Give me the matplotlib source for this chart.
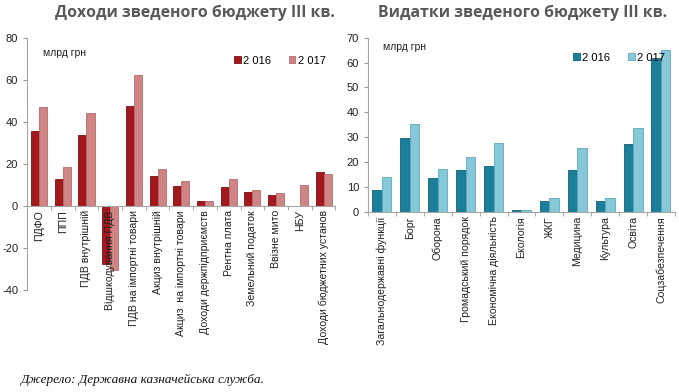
import numpy as np
import matplotlib
matplotlib.use("Agg")
import matplotlib.pyplot as plt

plt.rcParams["font.family"] = ["Liberation Sans", "DejaVu Sans"]
plt.rcParams["axes.unicode_minus"] = False

# income (left chart), bn UAH
inc_cats = ["ПДФО", "ППП", "ПДВ внутрішній", "Відшкодування ПДВ",
            "ПДВ на імпортні товари", "Акциз внутрішній", "Акциз  на імпортні товари",
            "Доходи держпідприємств", "Рентна плата", "Земельний податок",
            "Ввізне мито", "НБУ", "Доходи бюджетних установ"]
inc_2016 = [35.5, 12.9, 34.0, -27.7, 47.8, 14.5, 9.7, 2.6, 8.9, 6.7, 5.1, 0.0, 16.0]
inc_2017 = [47.2, 18.4, 44.3, -30.6, 62.2, 17.8, 11.9, 2.6, 12.9, 7.5, 6.2, 10.0, 15.2]

# spending (right chart), bn UAH
exp_cats = ["Загальнодержавні функції", "Борг", "Оборона", "Громадський порядок",
            "Економічна діяльність", "Екологія", "ЖКГ", "Медицина", "Культура",
            "Освіта", "Соцзабезпечення"]
exp_2016 = [8.9, 29.6, 13.8, 17.0, 18.5, 0.8, 4.3, 17.0, 4.3, 27.2, 62.0]
exp_2017 = [14.2, 35.5, 17.2, 22.1, 27.6, 0.8, 5.8, 25.9, 5.5, 33.7, 65.0]

years = ["2 016", "2 017"]
GREY = "#595959"


def bars(ax, cats, a, b, colors, edges, zero_axis=False):
    if zero_axis:
        ax.spines["bottom"].set_position(("data", 0))
    x = np.arange(len(cats))
    w = 0.34
    ax.bar(x - w / 2, a, w, color=colors[0], edgecolor=edges[0], lw=0.6, label=years[0])
    ax.bar(x + w / 2, b, w, color=colors[1], edgecolor=edges[1], lw=0.6, label=years[1])
    ax.set_xlim(-0.5, len(cats) - 0.5)
    ax.set_xticks(x)
    ax.set_xticklabels(cats, rotation=90, fontsize=7.6, color="#222222")
    ax.set_xticks(np.arange(len(cats) + 1) - 0.5, minor=True)
    ax.tick_params(axis="x", which="major", length=0, pad=3)
    ax.tick_params(axis="x", which="minor", length=3, color="#999999")
    ax.tick_params(axis="y", labelsize=8, length=3, color="#999999", labelcolor="#222222")
    for s in ("top", "right"):
        ax.spines[s].set_visible(False)
    for s in ("left", "bottom"):
        ax.spines[s].set_color("#a6a6a6")
        ax.spines[s].set_linewidth(0.8)
    ax.text(0.05, 0.93, "млрд грн", transform=ax.transAxes, fontsize=7.5, color="#222222")
    ax.legend(loc="upper right", bbox_to_anchor=(1.0, 0.97), ncol=2, frameon=False,
              fontsize=8, handlelength=0.6, handleheight=0.6, handletextpad=0.2,
              columnspacing=1.6)


fig = plt.figure(figsize=(6.79, 3.92), dpi=100)

ax1 = fig.add_axes([0.040, 0.260, 0.454, 0.643])
ax1.set_ylim(-40, 80)
bars(ax1, inc_cats, inc_2016, inc_2017, ("#a3181c", "#cf8585"), ("#7a1014", "#b86a6a"),
     zero_axis=True)
ax1.set_ylim(-40, 80)
ax1.set_yticks(range(-40, 81, 20))

ax2 = fig.add_axes([0.542, 0.459, 0.452, 0.445])
bars(ax2, exp_cats, exp_2016, exp_2017, ("#1b7f99", "#86c8d8"), ("#136077", "#5fa9bd"))
ax2.set_ylim(0, 70)
ax2.set_yticks(range(0, 71, 10))

fig.text(0.287, 0.968, "Доходи зведеного бюджету III кв.", ha="center", va="center",
         fontsize=11.3, fontweight="bold", color=GREY, family=["Open Sans", "DejaVu Sans"])
fig.text(0.769, 0.968, "Видатки зведеного бюджету III кв.", ha="center", va="center",
         fontsize=11.3, fontweight="bold", color=GREY, family=["Open Sans", "DejaVu Sans"])
fig.text(0.030, 0.022, "Джерело: Державна казначейська служба.", fontsize=9.5,
         style="italic", family=["Liberation Serif", "DejaVu Serif"], color="#111111")

fig.savefig("out.png", dpi=100, facecolor="white")
